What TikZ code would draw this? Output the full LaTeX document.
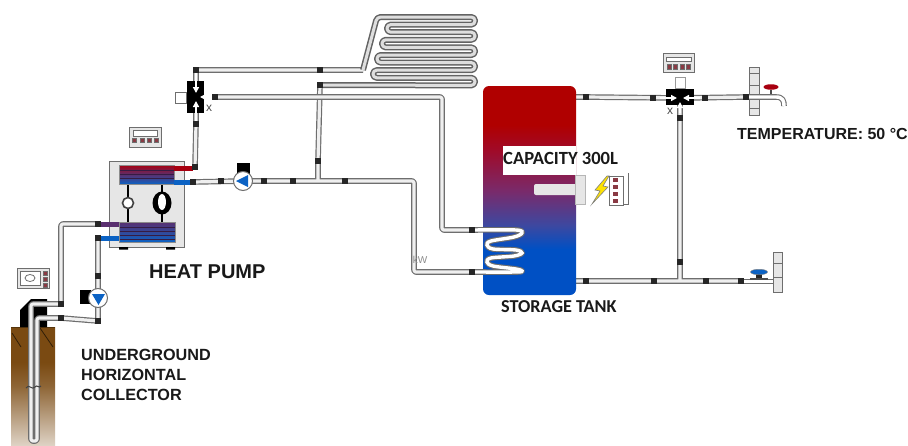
\documentclass[tikz,border=0pt]{standalone}
\usepackage{fontspec}
\setmainfont{Liberation Sans}
\newfontfamily\carlito{Carlito}
\usetikzlibrary{arrows.meta,shapes.geometric}
\definecolor{pipeline}{HTML}{6E6E6E}
\definecolor{pipefill}{HTML}{EFEFEF}
\definecolor{tankred}{HTML}{B00000}
\definecolor{tankblue}{HTML}{0050C4}
\definecolor{tanka}{HTML}{A00A28}
\definecolor{tankb}{HTML}{7A2A6A}
\definecolor{tankc}{HTML}{3D48A0}
\definecolor{hpblue}{HTML}{0B62C4}
\definecolor{hpred}{HTML}{A80010}
\definecolor{hppurple}{HTML}{5A2F6F}
\definecolor{earth}{HTML}{7A4A12}
\definecolor{panel}{HTML}{E6E6E6}
\definecolor{btn}{HTML}{8A3A44}
\pgfdeclareverticalshading{tankshade}{100bp}{color(0bp)=(tankblue);color(36bp)=(tankblue);color(41.7bp)=(tankc);color(50bp)=(tankb);color(59.7bp)=(tanka);color(65.7bp)=(tankred);color(100bp)=(tankred)}
\pgfdeclareverticalshading{earthshade}{100bp}{color(0bp)=(white);color(25bp)=(earth!25!white);color(50bp)=(earth!85!white);color(60bp)=(earth);color(100bp)=(earth)}
\tikzset{
  x=1pt,y=-1pt,
  pipeo/.style={draw=pipeline,line width=5.6pt,line join=round,rounded corners=2pt},
  pipei/.style={draw=pipefill,line width=3.2pt,line join=round,rounded corners=2pt},
  serpo/.style={draw=pipeline!90!black,line width=6pt,line join=round,rounded corners=3.7pt},
  serpi/.style={draw=pipefill!85!gray,line width=3pt,line join=round,rounded corners=3.7pt},
  joint/.style={fill=black!85,inner sep=0pt,minimum size=5.6pt,rectangle},
  flow/.style={-{Triangle[width=6pt,length=6pt]},draw=white,line width=1.8pt},
  box/.style={draw=pipeline,fill=panel,line width=1pt},
  whitebox/.style={draw=pipeline,fill=white,line width=1pt},
  label/.style={font=\bfseries,anchor=west,inner sep=0pt,text=black!90},
  capt/.style={font=\carlito\bfseries,anchor=west,inner sep=0pt,text=black!90},
  btnmark/.style={fill=btn,draw=pipeline,line width=.4pt},
  xmark/.style={font=\fontsize{12}{12}\selectfont,text=black!70,inner sep=0pt},
}
\newcommand{\pipes}[1]{\draw[pipeo] #1; \draw[pipei] #1;}
\begin{document}
\begin{tikzpicture}
\path[use as bounding box] (0,0) rectangle (908,445);
\fill[white] (0,0) rectangle (908,445);
% named points
\coordinate (hpHotOut) at (195,167);
\coordinate (hpColdIn) at (193,182);
\coordinate (valveL) at (196,97);
\coordinate (valveLTop) at (196,70);
\coordinate (valveLBot) at (196,124);
\coordinate (valveLRight) at (215,97);
\coordinate (serpIn) at (320,70);
\coordinate (serpOut) at (320,85);
\coordinate (riser) at (318,161);
\coordinate (tee) at (318,181);
\coordinate (pumpA) at (243,181);
\coordinate (coilIn) at (472,230);
\coordinate (coilOut) at (472,272);
\coordinate (valveR) at (680,98);
\coordinate (tankHot) at (586,97);
\coordinate (tankCold) at (586,281);
\coordinate (teeR) at (680,281);
\coordinate (hotTap) at (746,97);
\coordinate (coldTap) at (741,281);
\coordinate (brineOut) at (98,224);
\coordinate (brineIn) at (98,238);
\coordinate (wellA) at (61,304);
\coordinate (wellB) at (61,318);
\coordinate (pumpB) at (98,298);
\coordinate (pumpBLow) at (98,321);
% ground
\shade[shading=earthshade] (11,327) rectangle (55,445);
\draw[earth!70!black,line width=.8pt] (11,327) -- (55,327);
\draw[black!60!earth,line width=.8pt] (12,333) -- (21,347) (40,328) -- (53,347);
% well insulation
\fill[black] (47,299) -- (31,299) -- (20,310) -- (20,327) -- (47,327) -- cycle;
% pipes
\pipes{(wellA) -- (31,304) -- (31,441) -- (37,441) -- (37,318) -- (wellB)}
\pipes{(wellA) -- (61,224) -- (brineOut)}
\pipes{(wellB) -- (pumpBLow) -- (brineIn)}
\pipes{(hpHotOut) -- (valveLBot) -- (valveL) -- (valveLTop) -- (serpIn) -- (363,70)}
\draw[serpo] (363,70) -- (377,17) -- (475,17) -- (475,24.6) -- (387,24.6) -- (387,32.2) -- (475,32.2) -- (475,39.8) -- (382,39.8) -- (382,47.4) -- (475,47.4) -- (475,55) -- (377,55) -- (377,62.6) -- (475,62.6) -- (475,70.2) -- (373,70.2) -- (373,77.8) -- (475,77.8) -- (475,85.4) -- (serpOut);
\draw[serpi] (363,70) -- (377,17) -- (475,17) -- (475,24.6) -- (387,24.6) -- (387,32.2) -- (475,32.2) -- (475,39.8) -- (382,39.8) -- (382,47.4) -- (475,47.4) -- (475,55) -- (377,55) -- (377,62.6) -- (475,62.6) -- (475,70.2) -- (373,70.2) -- (373,77.8) -- (475,77.8) -- (475,85.4) -- (serpOut);
\pipes{(hpColdIn) -- (pumpA) -- (tee) -- (414,181) -- (414,272) -- (coilOut) (serpOut) -- (riser) -- (tee)}
\pipes{(valveLRight) -- (442,97) -- (442,230) -- (coilIn)}
\pipes{(576,97) -- (tankHot) -- (valveR) -- (hotTap) (576,281) -- (tankCold) -- (coldTap) (valveR) -- (teeR)}
% tank
\shade[shading=tankshade,rounded corners=6pt] (483,86) rectangle (576,295);
% coil
\draw[pipeo,line width=5.6pt,rounded corners=0pt] plot[smooth,tension=.55] coordinates {(473,230)(516,230)(522,233)(514,237)(491,241)(487,245)(493,249)(516,250)(522,253)(514,256)(491,258)(487,262)(493,266)(516,269)(522,271)(516,272)(473,272)};
\draw[draw=white,line width=3.4pt] plot[smooth,tension=.55] coordinates {(473,230)(516,230)(522,233)(514,237)(491,241)(487,245)(493,249)(516,250)(522,253)(514,256)(491,258)(487,262)(493,266)(516,269)(522,271)(516,272)(473,272)};
% capacity
\node[fill=white,anchor=north west,minimum width=73pt,minimum height=29pt,inner sep=0pt] (capbox) at (503,146) {};
\node[capt,font=\carlito\bfseries\fontsize{18.6}{22}\selectfont] (capacity) at (503,158) {CAPACITY 300L};
% heater
\fill[panel,rounded corners=2pt] (534,184) rectangle (580,195);
\draw[box,draw=pipeline!50] (575,175) rectangle (585,204);
\draw[fill=yellow!85!orange,draw=black!50,line width=.6pt] (607,176) -- (595,190) -- (600,191) -- (592,204) -- (608,187) -- (603,186) -- (609,176) -- cycle;
\draw[box,fill=white] (609,176) rectangle (623,205);
\draw[pipeline,line width=1pt] (623,204) -- (628,204) -- (628,173);
\foreach \yy in {178,185,192,199}{\fill[btn] (613,\yy) rectangle (618,\yy+4);}
% heat pump
\draw[box,fill=panel] (109,161) rectangle (184,247);
\fill[black] (119,247) rectangle (128,249.5) (166,247) rectangle (175,249.5);
\draw[black,line width=2.6pt] (128,184) -- (128,222) (162,184) -- (162,222);
\node[ellipse,fill=black,minimum width=19pt,minimum height=23pt,inner sep=0pt] (compressor) at (162,203) {};
\node[ellipse,fill=white,minimum width=8pt,minimum height=16pt,inner sep=0pt] (compcore) at (162,202) {};
\node[circle,draw=black!75,fill=white,line width=1.6pt,minimum size=11pt,inner sep=0pt] (expansion) at (128,203) {};
\shade[top color=hpred,bottom color=hpblue,middle color=hppurple] (119,165) rectangle (174,184);
\foreach \yy in {170,174,178}{\draw[black!40!hppurple,line width=.5pt] (119,\yy) -- (174,\yy);}
\draw[black!45,line width=.6pt] (119,165) rectangle (174,184);
\shade[top color=hppurple,bottom color=hpblue] (119,222) rectangle (175,242);
\foreach \yy in {227,231,235,239}{\draw[black!40!hppurple,line width=.5pt] (119,\yy) -- (175,\yy);}
\draw[black!45,line width=.6pt] (119,222) rectangle (175,242);
\fill[hpred] (174,166) rectangle (193,171);
\fill[hpblue] (174,180) rectangle (191,185);
\fill[hppurple] (100,222) rectangle (119,227);
\fill[hpblue] (100,236) rectangle (119,241);
% pumps
\fill[black] (237,163) rectangle (250,175);
\node[circle,draw=pipeline,fill=white,line width=1pt,minimum size=19pt,inner sep=0pt] (pumpAbody) at (pumpA) {};
\fill[hpblue] (236,181) -- (248,175) -- (248,187) -- cycle;
\fill[black] (80,290) rectangle (91,304);
\node[circle,draw=pipeline,fill=white,line width=1pt,minimum size=19pt,inner sep=0pt] (pumpBbody) at (pumpB) {};
\fill[hpblue] (92,294) -- (105,294) -- (98.5,305) -- cycle;
% left valve
\fill[black] (187,81) rectangle (204,113);
\draw[flow] (196,73) -- (196,93);
\draw[flow] (196,121) -- (196,101);
\draw[flow] (212,97) -- (200,97);
\draw[whitebox] (175,92) rectangle (186,103);
\node[xmark] (xL) at (209,108) {x};
% right valve
\fill[black] (666,89) rectangle (694,105);
\draw[flow] (660,98) -- (677,98);
\draw[flow] (700,98) -- (683,98);
\draw[flow] (680,113) -- (680,102);
\draw[whitebox,draw=pipeline!70] (675,77) rectangle (685,88);
\node[xmark] (xR) at (670,111) {x};
% joints
\foreach \nm/\px in {j1/hpHotOut,j2/hpColdIn,j3/valveLTop,j4/valveLBot,j5/valveLRight,j6/serpIn,j7/serpOut,j8/riser,j9/brineOut,j10/brineIn,j11/wellA,j12/wellB,j13/pumpBLow,j14/coilIn,j15/coilOut,j16/tankHot,j17/tankCold,j18/hotTap,j19/coldTap}{\node[joint] (\nm) at (\px) {};}
\foreach \nm/\qq in {k1/{221,181},k2/{264,181},k3/{293,181},k4/{345,181},k5/{653,98},k6/{705,98},k7/{680,118},k8/{680,262},k9/{654,281},k10/{706,281},k11/{98,276}}{\node[joint] (\nm) at (\qq) {};}
% controllers
\draw[box] (129,127) rectangle (161,147);
\draw[whitebox] (133,130) rectangle (157,136);
\foreach \xx in {132,140,147,154}{\fill[btnmark] (\xx,138) rectangle (\xx+4,142.5);}
\draw[box] (663,53) rectangle (694,72);
\draw[whitebox] (666,57) rectangle (691,61);
\foreach \xx in {667,673,680,686}{\fill[btnmark] (\xx,64) rectangle (\xx+4,69);}
\draw[box] (17,268) rectangle (49,288);
\draw[whitebox] (20,271) rectangle (40,285);
\node[ellipse,draw=pipeline,minimum width=10pt,minimum height=7pt,inner sep=0pt,line width=.8pt] (sensor) at (30,278) {};
\foreach \yy in {271,277,283}{\fill[btnmark] (43,\yy) rectangle (47,\yy+4);}
% hot tap
\draw[box] (749,67) rectangle (759,115);
\draw[pipeline,line width=1pt] (749,73) -- (759,73) (749,85) -- (759,85) (749,108) -- (759,108);
\draw[pipeline,line width=5.6pt,line join=round] (749,97) -- (776,97) .. controls (783,97) and (784,101) .. (784,106);
\draw[white,line width=3.4pt] (749,97) -- (776,97) .. controls (783,97) and (784,101) .. (784,106);
\draw[black!70,line width=1.2pt] (771,90) -- (771,94);
\node[ellipse,fill=hpred,minimum width=15pt,minimum height=5.5pt,inner sep=0pt] (hotHandle) at (771,87) {};
% cold tap
\draw[box] (773,252) rectangle (782,292);
\draw[pipeline,line width=1pt] (773,263) -- (782,263) (773,277) -- (782,277);
\draw[pipeline,line width=5pt] (744,281) -- (773,281);
\draw[white,line width=3pt] (744,281) -- (773,281);
\fill[black!85] (756,274) rectangle (762,279);
\draw[draw=black!70,line width=1.2pt] (750,279) -- (768,279);
\node[ellipse,fill=hpblue,draw=black!50,line width=.4pt,minimum width=17pt,minimum height=5.5pt,inner sep=0pt] (coldHandle) at (759,272) {};
% well squiggle
\draw[pipeline!60!black,line width=1pt] (26,388) .. controls (29,383) and (32,391) .. (35,387) .. controls (37,384) and (39,389) .. (41,386);
% labels
\node[label,font=\bfseries\fontsize{20}{22}\selectfont] (lblHP) at (149,272) {HEAT PUMP};
\node[label,font=\bfseries\fontsize{16.2}{20}\selectfont,align=left] (lblU) at (81,375) {UNDERGROUND\\[0pt]HORIZONTAL\\[0pt]COLLECTOR};
\node[label,font=\bfseries\fontsize{16}{20}\selectfont] (lblT) at (737,134) {TEMPERATURE: 50 °C};
\node[capt,font=\carlito\bfseries\fontsize{18.2}{22}\selectfont] (lblS) at (501,307) {STORAGE TANK};
\node[inner sep=0pt,text=black!45,font=\fontsize{10}{10}\selectfont] (kw) at (420,260) {kW};
\end{tikzpicture}
\end{document}
